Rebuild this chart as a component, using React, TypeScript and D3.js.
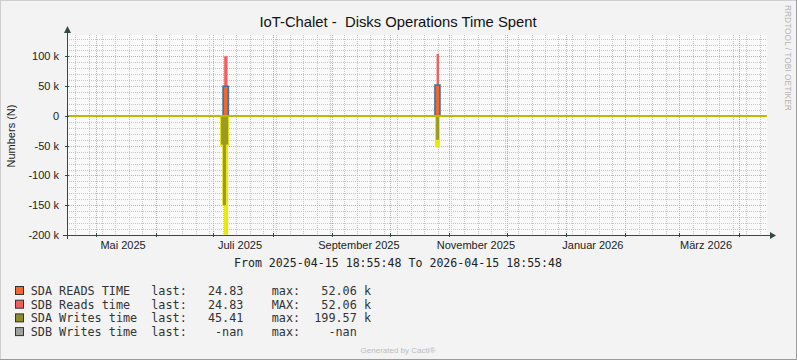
import React, { useRef, useEffect } from 'react';
import * as d3 from 'd3';

// time range of the graph
const startTime = '2025-04-15 18:55:48';
const endTime = '2026-04-15 18:55:48';

// y axis
const yTickValues = [-200000, -150000, -100000, -50000, 0, 50000, 100000];
const yTickLabels = ['-200 k', '-150 k', '-100 k', '-50 k', '0', '50 k', '100 k'];

// x axis labels (every second month)
const monthLabelDates = ['2025-05-01', '2025-07-01', '2025-09-01', '2025-11-01', '2026-01-01', '2026-03-01'];
const monthLabels = ['Mai 2025', 'Juli 2025', 'September 2025', 'November 2025', 'Januar 2026', 'März 2026'];

// series: [time the value starts, value]
const sdaReads: [string, number][] = [
  ['2025-07-06 04:00', 50000],
  ['2025-07-08 22:00', 0],
  ['2025-10-24 16:00', 52060],
  ['2025-10-27 06:00', 0],
];
const sdbReads: [string, number][] = [
  ['2025-07-06 18:00', 50500],
  ['2025-07-08 12:00', 0],
  ['2025-10-25 12:00', 52060],
  ['2025-10-26 18:00', 0],
];
const sdaWritesPeak: [string, number][] = [
  ['2025-07-04 14:00', -50000],
  ['2025-07-05 18:00', -150000],
  ['2025-07-06 16:00', -199570],
  ['2025-07-08 19:00', -50000],
  ['2025-07-09 07:00', 0],
  ['2025-10-24 16:00', -53000],
  ['2025-10-27 06:00', 0],
];
const sdaWrites: [string, number][] = [
  ['2025-07-05 02:00', -48000],
  ['2025-07-06 02:00', -150000],
  ['2025-07-07 16:00', -48000],
  ['2025-07-08 19:00', 0],
  ['2025-10-25 06:00', -40000],
  ['2025-10-26 18:00', 0],
];

// legend
const legendNames = ['SDA READS TIME', 'SDB Reads time', 'SDA Writes time', 'SDB Writes time'];
const legendColors = ['#f4662f', '#f45d5d', '#8c8a2b', '#9ea29b'];
const legendLast = ['24.83', '24.83', '45.41', '-nan'];
const legendMaxLabel = ['max:', 'MAX:', 'max:', 'max:'];
const legendMax = ['52.06', '52.06', '199.57', '-nan'];
const legendUnit = ['k', 'k', 'k', ''];

const parseTime = d3.timeParse('%Y-%m-%d %H:%M');
const parseFull = d3.timeParse('%Y-%m-%d %H:%M:%S');
const parseDay = d3.timeParse('%Y-%m-%d');

const Chart = () => {
  const svgRef = useRef(null);

  useEffect(() => {
    document.body.style.margin = '0';
    const width = 797;
    const height = 360;
    const svg = d3.select(svgRef.current);
    svg.selectAll('*').remove();
    svg.attr('width', width).attr('height', height);

    const plot = { left: 67, top: 35, width: 700, height: 200 };
    const t0 = parseFull(startTime);
    const t1 = parseFull(endTime);

    const x = d3.scaleTime().domain([t0, t1]).range([plot.left, plot.left + plot.width]);
    const y = d3.scaleLinear().domain([-200000, 136000]).range([plot.top + plot.height, plot.top]);

    // background
    svg.append('rect').attr('width', width).attr('height', height).attr('fill', '#f3f3f3');
    svg.append('line').attr('x1', 0).attr('x2', width).attr('y1', 0.5).attr('y2', 0.5).attr('stroke', '#cfcfcf');
    svg.append('line').attr('x1', 0.5).attr('x2', 0.5).attr('y1', 0).attr('y2', height).attr('stroke', '#cfcfcf');
    svg.append('line').attr('x1', 0).attr('x2', width).attr('y1', height - 0.5).attr('y2', height - 0.5).attr('stroke', '#9a9a9a');
    svg.append('line').attr('x1', width - 0.5).attr('x2', width - 0.5).attr('y1', 0).attr('y2', height).attr('stroke', '#9a9a9a');
    svg.append('rect')
      .attr('x', plot.left).attr('y', plot.top)
      .attr('width', plot.width).attr('height', plot.height)
      .attr('fill', '#fafafa');

    const grid = svg.append('g');
    const minorColor = '#c6c6c6';
    const majorColor = '#e89c9c';
    // minor horizontal grid
    d3.range(-200000, 136001, 10000).filter(v => v % 50000 !== 0).forEach(v => {
      grid.append('line')
        .attr('x1', plot.left).attr('x2', plot.left + plot.width)
        .attr('y1', Math.round(y(v)) + 0.5).attr('y2', Math.round(y(v)) + 0.5)
        .attr('stroke', minorColor).attr('stroke-dasharray', '1,1');
    });
    // minor vertical grid (weeks)
    d3.timeWeek.range(t0, t1).forEach(d => {
      grid.append('line')
        .attr('x1', Math.round(x(d)) + 0.5).attr('x2', Math.round(x(d)) + 0.5)
        .attr('y1', plot.top).attr('y2', plot.top + plot.height)
        .attr('stroke', minorColor).attr('stroke-dasharray', '1,1');
    });
    // major grid
    yTickValues.forEach(v => {
      grid.append('line')
        .attr('x1', plot.left).attr('x2', plot.left + plot.width)
        .attr('y1', Math.round(y(v)) + 0.5).attr('y2', Math.round(y(v)) + 0.5)
        .attr('stroke', majorColor).attr('stroke-dasharray', '1,1');
    });
    d3.timeMonth.range(t0, t1).forEach(d => {
      grid.append('line')
        .attr('x1', Math.round(x(d)) + 0.5).attr('x2', Math.round(x(d)) + 0.5)
        .attr('y1', plot.top).attr('y2', plot.top + plot.height)
        .attr('stroke', majorColor).attr('stroke-dasharray', '1,1');
    });

    // helpers for step series
    const toSeries = (pts: [string, number][]) => {
      const s = pts.map(p => ({ t: parseTime(p[0]), v: p[1] }));
      return [{ t: t0, v: 0 }, ...s, { t: t1, v: 0 }];
    };
    const valueAt = (s, t) => {
      let v = 0;
      s.forEach(p => { if (p.t <= t) v = p.v; });
      return v;
    };

    const clip = svg.append('defs').append('clipPath').attr('id', 'plot-clip');
    clip.append('rect').attr('x', plot.left).attr('y', plot.top).attr('width', plot.width).attr('height', plot.height);
    const g = svg.append('g').attr('clip-path', 'url(#plot-clip)');

    const area = d3.area()
      .x(d => x(d.t))
      .y0(d => y(d.base))
      .y1(d => y(d.top))
      .curve(d3.curveStepAfter);
    const line = d3.line()
      .x(d => x(d.t))
      .y(d => y(d.v))
      .curve(d3.curveStepAfter);

    const peak = toSeries(sdaWritesPeak).map(d => ({ t: d.t, base: 0, top: d.v }));
    const writes = toSeries(sdaWrites).map(d => ({ t: d.t, base: 0, top: d.v }));
    const sda = toSeries(sdaReads);
    const sdb = toSeries(sdbReads);
    const times = Array.from(new Set([...sda, ...sdb].map(d => +d.t))).sort((a, b) => a - b).map(t => new Date(t));
    const sdaArea = times.map(t => ({ t, base: 0, top: valueAt(sda, t) }));
    const sdbArea = times.map(t => {
      const b = valueAt(sda, t);
      return { t, base: b, top: b + valueAt(sdb, t) };
    });

    g.append('path').attr('d', area(peak)).attr('fill', '#ebe806');
    g.append('path').attr('d', area(writes)).attr('fill', '#9b9a24');
    g.append('path').attr('d', area(sdaArea)).attr('fill', '#f4662f');
    g.append('path').attr('d', area(sdbArea)).attr('fill', '#f45d5d');
    g.append('path').attr('d', line(sda)).attr('fill', 'none').attr('stroke', '#3f7298').attr('stroke-width', 1.6);

    // zero line from writes
    g.append('line')
      .attr('x1', plot.left).attr('x2', plot.left + plot.width)
      .attr('y1', y(0)).attr('y2', y(0))
      .attr('stroke', '#bdbb00').attr('stroke-width', 2);

    // axes
    const axisColor = '#2e4c42';
    const yBottom = plot.top + plot.height;
    svg.append('line')
      .attr('x1', plot.left - 4).attr('x2', plot.left + plot.width + 4)
      .attr('y1', yBottom + 0.5).attr('y2', yBottom + 0.5)
      .attr('stroke', axisColor);
    svg.append('line')
      .attr('x1', plot.left + 0.5).attr('x2', plot.left + 0.5)
      .attr('y1', yBottom + 4).attr('y2', plot.top - 4)
      .attr('stroke', axisColor);
    svg.append('path')
      .attr('d', `M${plot.left + plot.width + 3},${yBottom - 3} L${plot.left + plot.width + 9},${yBottom + 0.5} L${plot.left + plot.width + 3},${yBottom + 4} Z`)
      .attr('fill', axisColor);
    svg.append('path')
      .attr('d', `M${plot.left - 3},${plot.top - 2} L${plot.left + 0.5},${plot.top - 9} L${plot.left + 4},${plot.top - 2} Z`)
      .attr('fill', axisColor);
    yTickValues.forEach(v => {
      svg.append('line')
        .attr('x1', plot.left - 2).attr('x2', plot.left + 2)
        .attr('y1', Math.round(y(v)) + 0.5).attr('y2', Math.round(y(v)) + 0.5)
        .attr('stroke', axisColor);
    });
    d3.timeMonth.range(t0, t1).forEach(d => {
      svg.append('line')
        .attr('x1', Math.round(x(d)) + 0.5).attr('x2', Math.round(x(d)) + 0.5)
        .attr('y1', yBottom - 2).attr('y2', yBottom + 2)
        .attr('stroke', axisColor);
    });

    const sans = '"Liberation Sans", Arial, sans-serif';
    const mono = '"DejaVu Sans Mono", "Liberation Mono", monospace';

    // y labels
    yTickValues.forEach((v, i) => {
      svg.append('text')
        .attr('x', 59).attr('y', y(v) + 4)
        .attr('text-anchor', 'end')
        .attr('font-family', sans).attr('font-size', 11)
        .attr('fill', '#222')
        .text(yTickLabels[i]);
    });
    // x labels, centred in the middle of the month
    monthLabelDates.forEach((d, i) => {
      const m = parseDay(d);
      svg.append('text')
        .attr('x', x(d3.timeDay.offset(m, 14)))
        .attr('y', 249)
        .attr('text-anchor', 'middle')
        .attr('font-family', sans).attr('font-size', 11)
        .attr('fill', '#222')
        .text(monthLabels[i]);
    });

    // title and axis title
    svg.append('text')
      .attr('x', 398).attr('y', 27)
      .attr('text-anchor', 'middle')
      .attr('font-family', sans).attr('font-size', 14.8)
      .attr('fill', '#111')
      .style('white-space', 'pre')
      .text('IoT-Chalet -  Disks Operations Time Spent');
    svg.append('text')
      .attr('transform', 'translate(15,136) rotate(-90)')
      .attr('text-anchor', 'middle')
      .attr('font-family', sans).attr('font-size', 11)
      .attr('fill', '#222')
      .text('Numbers (N)');
    svg.append('text')
      .attr('transform', 'translate(785,5) rotate(90)')
      .attr('font-family', sans).attr('font-size', 8.4)
      .attr('fill', '#b5b5b5')
      .text('RRDTOOL / TOBI OETIKER');

    // time range line
    svg.append('text')
      .attr('x', 398).attr('y', 267)
      .attr('text-anchor', 'middle')
      .attr('font-family', mono).attr('font-size', 11.6)
      .attr('fill', '#222')
      .text(`From ${startTime} To ${endTime}`);

    // legend
    const cw = 7.09;
    const lx = 30.7;
    legendNames.forEach((name, i) => {
      const cy = 291 + i * 13.7;
      svg.append('rect')
        .attr('x', 15.5).attr('y', cy - 4.5)
        .attr('width', 8).attr('height', 8)
        .attr('fill', legendColors[i]).attr('stroke', '#333');
      const row = svg.append('g')
        .attr('font-family', mono).attr('font-size', 11.8)
        .attr('fill', '#333');
      row.append('text').attr('x', lx).attr('y', cy + 4).text(name);
      row.append('text').attr('x', lx + 17 * cw).attr('y', cy + 4).text('last:');
      row.append('text').attr('x', lx + 30 * cw).attr('y', cy + 4).attr('text-anchor', 'end').text(legendLast[i]);
      row.append('text').attr('x', lx + 34 * cw).attr('y', cy + 4).text(legendMaxLabel[i]);
      row.append('text').attr('x', lx + 46 * cw).attr('y', cy + 4).attr('text-anchor', 'end').text(legendMax[i]);
      row.append('text').attr('x', lx + 47 * cw).attr('y', cy + 4).text(legendUnit[i]);
    });

    svg.append('text')
      .attr('x', 398).attr('y', 353)
      .attr('text-anchor', 'middle')
      .attr('font-family', sans).attr('font-size', 8)
      .attr('fill', '#bdbdbd')
      .text('Generated by Cacti®');
  }, []);

  return (
    <div style={{ width: '797px', height: '360px' }}>
      <svg ref={svgRef}></svg>
    </div>
  );
};

export default function App() {
  return <Chart />;
}
